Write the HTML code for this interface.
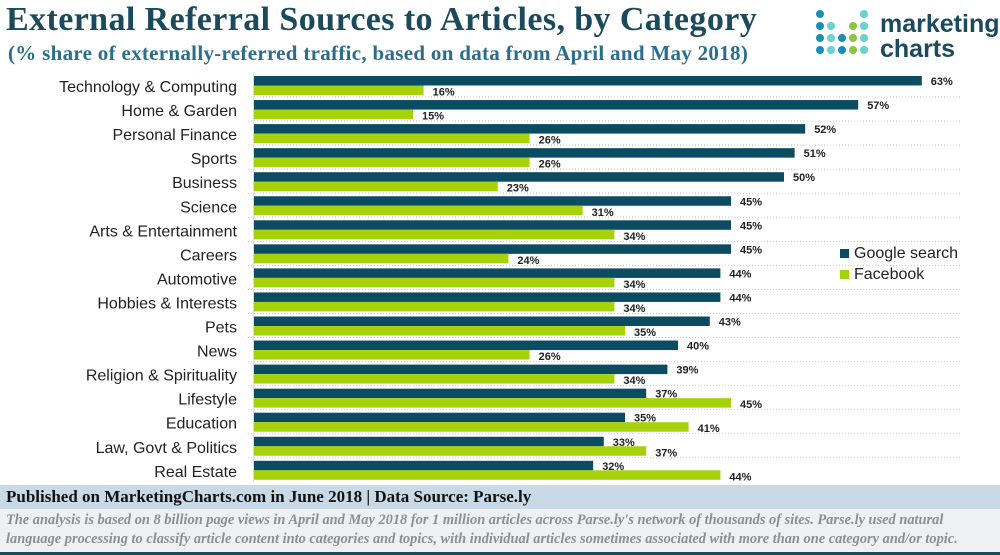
<!DOCTYPE html>
<html><head><meta charset="utf-8"><style>
body{margin:0;width:1000px;height:555px;background:#fff;font-family:"Liberation Sans",sans-serif;position:relative;overflow:hidden}
.t{position:absolute;white-space:nowrap}
</style></head><body>
<div class="t" style="left:6px;top:1px;font-family:'Liberation Serif',serif;font-weight:bold;font-size:34px;letter-spacing:0.4px;color:#1b4a5c">External Referral Sources to Articles, by Category</div>
<div class="t" style="left:8px;top:41px;font-family:'Liberation Serif',serif;font-weight:bold;font-size:21px;letter-spacing:0.3px;color:#2a6d8c">(% share of externally-referred traffic, based on data from April and May 2018)</div>
<svg style="position:absolute;left:812px;top:8px" width="188" height="52">
<g id="dots"></g>
<text x="68" y="24" font-family="Liberation Sans" font-weight="bold" font-size="25" fill="#1b4a5c">marketing</text>
<text x="68" y="49" font-family="Liberation Sans" font-weight="bold" font-size="25" fill="#1b4a5c">charts</text>
</svg>
<svg id="chart" style="position:absolute;left:0;top:0" width="1000" height="482"></svg>
<div class="t" style="left:840px;top:245px;font-size:16px;color:#222"><span style="display:inline-block;width:9px;height:9px;background:#0b4c63;margin-right:5px"></span>Google search</div>
<div class="t" style="left:840px;top:266px;font-size:16px;color:#222"><span style="display:inline-block;width:9px;height:9px;background:#a6d20a;margin-right:5px"></span>Facebook</div>
<div style="position:absolute;left:0;top:485px;width:1000px;height:24px;background:#c9dae6"><div class="t" style="left:6px;top:2px;font-family:'Liberation Serif',serif;font-weight:bold;font-size:17px;color:#111">Published on MarketingCharts.com in June 2018 | Data Source: Parse.ly</div></div>
<div style="position:absolute;left:0;top:509px;width:1000px;height:43px;background:#eef0f1;font-family:'Liberation Serif',serif;font-style:italic;font-weight:bold;font-size:14.4px;color:#8e8e8e;line-height:19px;padding:2px 6px;box-sizing:border-box;white-space:nowrap;overflow:hidden">The analysis is based on 8 billion page views in April and May 2018 for 1 million articles across Parse.ly's network of thousands of sites. Parse.ly used natural<br>language processing to classify article content into categories and topics, with individual articles sometimes associated with more than one category and/or topic.</div>
<div style="position:absolute;left:0;top:552px;width:1000px;height:3px;background:#1b4a5c"></div>
<script>
const categories=["Technology & Computing","Home & Garden","Personal Finance","Sports","Business","Science","Arts & Entertainment","Careers","Automotive","Hobbies & Interests","Pets","News","Religion & Spirituality","Lifestyle","Education","Law, Govt & Politics","Real Estate"];
const google=[63,57,52,51,50,45,45,45,44,44,43,40,39,37,35,33,32];
const facebook=[16,15,26,26,23,31,34,24,34,34,35,26,34,45,41,37,44];
const NS="http://www.w3.org/2000/svg";
const svg=document.getElementById('chart');
const x0=254,pxPer=10.6,y0=76,step=24.05,bh=9.5;
const xs=v=>v*pxPer;
const ys=i=>y0+i*step;
function mk(t,a){const e=document.createElementNS(NS,t);for(const k in a)e.setAttribute(k,a[k]);svg.appendChild(e);return e;}
categories.forEach((c,i)=>{
  const y=ys(i);
  if(i>0){const l=mk('line',{x1:248,x2:960,y1:y-3,y2:y-3,stroke:'#ccc','stroke-dasharray':'1,2'});
  
  }
  const t=mk('text',{x:237,y:y+16,'text-anchor':'end','font-size':'16','font-family':'Liberation Sans',fill:'#222'});t.textContent=c;
  
  
  const g=mk('rect',{x:x0,y:y,width:xs(google[i]),height:bh,fill:'#0b4c63'});
  
  
  const f=mk('rect',{x:x0,y:y+bh,width:xs(facebook[i]),height:bh,fill:'#a6d20a'});
  
  
  const gl=mk('text',{x:x0+xs(google[i])+9,y:y+9,'font-size':'11','font-weight':'bold','font-family':'Liberation Sans',fill:'#222'});gl.textContent=google[i]+'%';
  
  
  const fl=mk('text',{x:x0+xs(facebook[i])+9,y:y+bh+10,'font-size':'11','font-weight':'bold','font-family':'Liberation Sans',fill:'#222'});fl.textContent=facebook[i]+'%';
  
  
});
mk('line',{x1:253.5,x2:253.5,y1:72,y2:482,stroke:'#ddd'});
const dg=document.getElementById('dots');
const cols=[["#1a8fb5","#1a8fb5","#1a8fb5","#1a8fb5"],[null,"#6ad0d0","#6ad0d0","#6ad0d0"],[null,null,"#1a8fb5","#1a8fb5"],[null,"#8cc63f","#8cc63f","#8cc63f"],["#6ad0d0","#6ad0d0","#6ad0d0","#6ad0d0"]];
cols.forEach((col,ci)=>col.forEach((c,ri)=>{if(!c)return;const e=document.createElementNS(NS,'circle');e.setAttribute('cx',8+ci*11);e.setAttribute('cy',6+ri*12);e.setAttribute('r',4);e.setAttribute('fill',c);dg.appendChild(e);}));
</script>
</body></html>
